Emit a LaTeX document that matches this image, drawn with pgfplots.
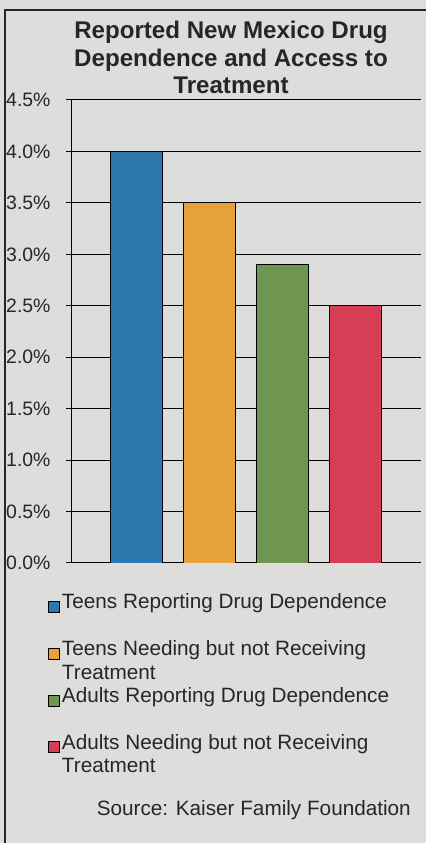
\documentclass[border=0pt]{standalone}
\usepackage{pgfplots}
\pgfplotsset{compat=1.18}
\usepackage{fontspec}
\setmainfont{Liberation Sans}

\definecolor{bg}{RGB}{221,221,219}
\definecolor{cblue}{RGB}{46,120,175}
\definecolor{corange}{RGB}{230,160,60}
\definecolor{cgreen}{RGB}{110,150,80}
\definecolor{cred}{RGB}{214,62,86}

\begin{document}
\begin{tikzpicture}
\fill[bg] (0,0) rectangle (426bp,843bp);
\useasboundingbox (0,0) rectangle (426bp,843bp);
\draw[line width=1.3bp, black!85] (5bp,0) -- (5bp,833bp) -- (426bp,833bp);

\node[font=\fontsize{24.2}{27.6}\selectfont\bfseries, align=center, anchor=north, inner sep=0pt, text=black!85]
  at (231bp,822bp) {Reported New Mexico Drug\\Dependence and Access to\\Treatment};

\begin{axis}[
  at={(71bp,280bp)}, anchor=south west,
  scale only axis, width=350bp, height=463bp,
  xmin=-0.89, xmax=3.89, ymin=0, ymax=4.5,
  axis lines=left, axis line style={-, line width=1bp, black},
  xtick=\empty,
  ytick={0,0.5,1,1.5,2,2.5,3,3.5,4,4.5},
  ymajorgrids, grid style={black, line width=1bp},
  tick align=outside, major tick length=5bp,
  tick style={black, line width=1bp},
  /pgf/number format/assume math mode=true,
  yticklabel style={font=\fontsize{19.5}{22}\selectfont, text=black!85, xshift=-12bp},
  yticklabel={\pgfmathprintnumber[fixed,fixed zerofill,precision=1]{\tick}\%},
  ybar, bar width=52bp, bar shift=0pt,
  legend cell align=left,
  legend style={at={(axis description cs:-0.0657,-0.062)}, anchor=north west,
    draw=none, fill=none, font=\fontsize{20.8}{23.4}\selectfont, text=black!85,
    row sep=3bp, inner sep=0pt, cells={align=left}},
  legend image code/.code={%
    \path (0bp,-4bp);
    \draw[#1,draw=black,line width=0.8bp] (0bp,1.5bp) rectangle (11bp,12.5bp);},
]
\addplot[fill=cblue, draw=black, line width=0.8bp] coordinates {(0,4.0)};
\addlegendentry{Teens Reporting Drug Dependence\\\mbox{}}
\addplot[fill=corange, draw=black, line width=0.8bp] coordinates {(1,3.5)};
\addlegendentry{Teens Needing but not Receiving\\Treatment}
\addplot[fill=cgreen, draw=black, line width=0.8bp] coordinates {(2,2.9)};
\addlegendentry{Adults Reporting Drug Dependence\\\mbox{}}
\addplot[fill=cred, draw=black, line width=0.8bp] coordinates {(3,2.5)};
\addlegendentry{Adults Needing but not Receiving\\Treatment}
\end{axis}

\node[font=\fontsize{20.8}{23.4}\selectfont, anchor=base east, inner sep=0pt, text=black!85]
  at (411bp,28bp) {Source: Kaiser Family Foundation};
\end{tikzpicture}
\end{document}
